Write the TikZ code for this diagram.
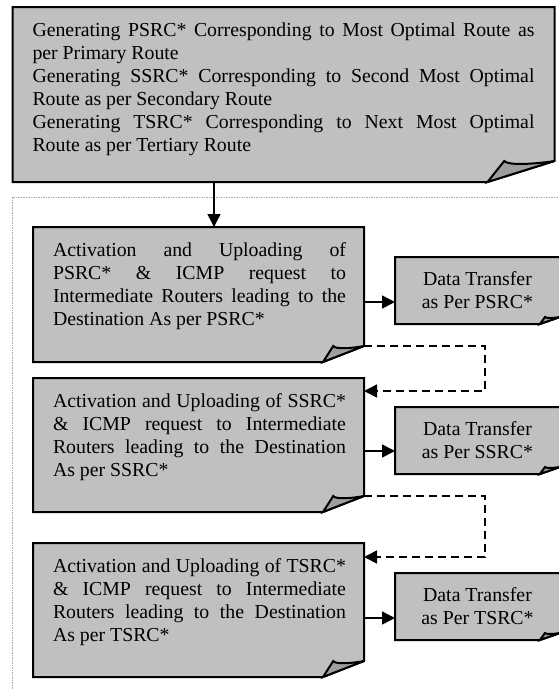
\documentclass[tikz,border=0pt]{standalone}
\usepackage{fontspec}
\setmainfont{Liberation Serif}
\usetikzlibrary{arrows.meta,calc,backgrounds}

\definecolor{paper}{HTML}{C0C0C0}
\definecolor{curl}{HTML}{9E9E9E}
\definecolor{frameline}{HTML}{A8A8A8}

% Box with a folded bottom-right corner drawn round an (empty) node.
% #1 node, #2 fold width, #3 fold height
\newcommand{\foldframe}[3]{%
  \draw[outline, fill=paper] (#1.north west) -- (#1.north east)
     -- ($(#1.south east)+(0pt,#3)$) -- ($(#1.south east)+(-#2,0pt)$)
     -- (#1.south west) -- cycle;
  \draw[outline, fill=curl] ($(#1.south east)+(-#2,0pt)$)
     -- ($(#1.south east)+(-0.75*#2,#3)$)
     .. controls ($(#1.south east)+(-0.7*#2,0.78*#3)$) and ($(#1.south east)+(-0.3*#2,0.85*#3)$)
     .. ($(#1.south east)+(0pt,#3)$) -- cycle;
}

\tikzset{
  area/.style={rectangle, inner sep=0pt, outer sep=0pt, anchor=north west},
  outline/.style={draw=black, line width=2pt, line join=miter},
  bodytext/.style={anchor=base west, inner sep=0pt, outer sep=0pt,
    font=\fontsize{19.8pt}{23pt}\selectfont},
  datatext/.style={area, align=center, font=\fontsize{19.8pt}{23pt}\selectfont},
  flow/.style={line width=1.5pt, -{Triangle[length=13pt,width=13pt]}},
  hop/.style={flow, dash pattern=on 8pt off 5pt},
  container/.style={draw=frameline, line width=1pt, dash pattern=on 1.5pt off 1pt}
}

\begin{document}
\begin{tikzpicture}[x=1pt, y=-1pt]
\useasboundingbox (0,0) rectangle (559,689);
\clip (0,0) rectangle (559,689);

% dotted container round the activation stage
\draw[container] (570,197) -- (12.7,197) -- (12.7,700);

% box areas
\node[area, minimum width=542pt, minimum height=175pt] (gen) at (12.5,7) {};
\node[area, minimum width=331pt, minimum height=135pt] (act1) at (33,227) {};
\node[area, minimum width=331pt, minimum height=134pt] (act2) at (33,378) {};
\node[area, minimum width=331pt, minimum height=134pt] (act3) at (33,543) {};
\node[datatext, minimum width=165pt, minimum height=67pt] (dt1) at (395,257) {Data Transfer\\as Per PSRC*};
\node[datatext, minimum width=165pt, minimum height=67pt] (dt2) at (395,407) {Data Transfer\\as Per SSRC*};
\node[datatext, minimum width=165pt, minimum height=67pt] (dt3) at (395,573) {Data Transfer\\as Per TSRC*};

\begin{scope}[on background layer]
  \foldframe{gen}{67pt}{21pt}
  \foldframe{act1}{41pt}{16pt}
  \foldframe{act2}{41pt}{16pt}
  \foldframe{act3}{41pt}{16pt}
  \foldframe{dt1}{20pt}{7pt}
  \foldframe{dt2}{20pt}{7pt}
  \foldframe{dt3}{20pt}{7pt}
\end{scope}

% texts
\node[bodytext] (gentext) at (32.5,36.5) {\parbox[t]{502pt}{%
Generating PSRC* Corresponding to Most Optimal Route as\linebreak
per Primary Route\par
Generating SSRC* Corresponding to Second Most Optimal\linebreak
Route as per Secondary Route\par
Generating TSRC* Corresponding to Next Most Optimal\linebreak
Route as per Tertiary Route}};

\node[bodytext] (act1text) at (53,256.5) {\parbox[t]{293pt}{%
Activation and Uploading of\linebreak
PSRC* \& ICMP request to\linebreak
Intermediate Routers leading to the\linebreak
Destination As per PSRC*}};

\node[bodytext] (act2text) at (53,407.5) {\parbox[t]{293pt}{%
Activation and Uploading of SSRC*\linebreak
\& ICMP request to Intermediate\linebreak
Routers leading to the Destination\linebreak
As per SSRC*}};

\node[bodytext] (act3text) at (53,572.5) {\parbox[t]{293pt}{%
Activation and Uploading of TSRC*\linebreak
\& ICMP request to Intermediate\linebreak
Routers leading to the Destination\linebreak
As per TSRC*}};

% connectors
\coordinate (drop) at (214,0);
\draw[flow] (gen.south -| drop) -- (act1.north -| drop);

\coordinate (f1) at (0,302);
\coordinate (f2) at (0,451);
\coordinate (f3) at (0,618);
\draw[flow] (act1.east |- f1) -- (dt1.west |- f1);
\draw[flow] (act2.east |- f2) -- (dt2.west |- f2);
\draw[flow] (act3.east |- f3) -- (dt3.west |- f3);

\coordinate (r1) at (485,346);
\coordinate (r2) at (485,391);
\coordinate (r3) at (485,496);
\coordinate (r4) at (485,557);
\draw[hop] (act1.east |- r1) -- (r1) -- (r2) -- (act2.east |- r2);
\draw[hop] (act2.east |- r3) -- (r3) -- (r4) -- (act3.east |- r4);
\end{tikzpicture}
\end{document}
